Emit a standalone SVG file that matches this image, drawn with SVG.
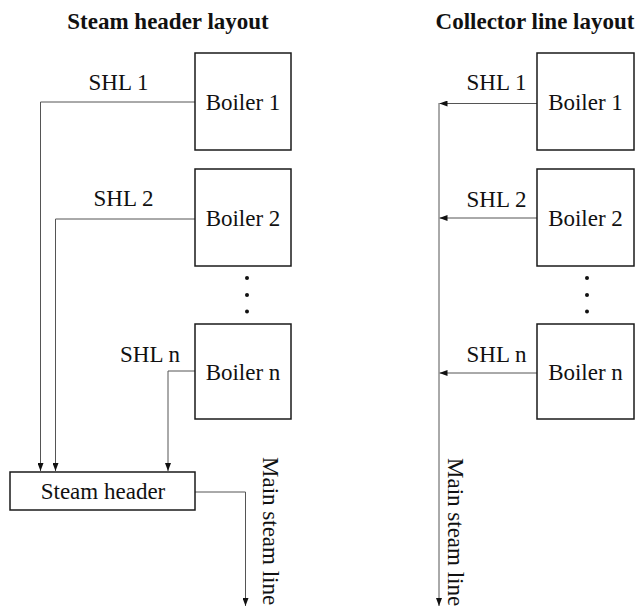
<svg xmlns="http://www.w3.org/2000/svg" width="638" height="609" viewBox="0 0 638 609">
<defs>
<style>
text{font-family:'Liberation Serif','Tinos','Times New Roman','DejaVu Serif',serif;font-size:23px;fill:#111}
.t{font-weight:bold}
.box{fill:#fff;stroke:#1a1a1a;stroke-width:1.5}
.ln{fill:none;stroke:#555;stroke-width:1}
.dot{fill:#111}
</style>
<marker id="ah" viewBox="0 0 8 6" refX="8" refY="3" markerWidth="8" markerHeight="6" markerUnits="userSpaceOnUse" orient="auto">
<path d="M0,0 L8,3 L0,6 Z" fill="#111"/>
</marker>
</defs>
<rect width="638" height="609" fill="#fff"/>
<text class="t" x="168" y="29" text-anchor="middle" font-family="Liberation Serif, serif">Steam header layout</text>
<text class="t" x="535" y="29" text-anchor="middle" font-family="Liberation Serif, serif">Collector line layout</text>

<g id="connectors">
<polyline class="ln" points="195,102 40.5,102 40.5,471" marker-end="url(#ah)"/>
<polyline class="ln" points="195,219 55.5,219 55.5,471" marker-end="url(#ah)"/>
<polyline class="ln" points="195,371 168,371 168,471" marker-end="url(#ah)"/>
<polyline class="ln" points="195,492 245.5,492 245.5,606" marker-end="url(#ah)"/>
<line class="ln" x1="537" y1="103.5" x2="439.5" y2="103.5" marker-end="url(#ah)"/>
<line class="ln" x1="537" y1="218" x2="439.5" y2="218" marker-end="url(#ah)"/>
<line class="ln" x1="537" y1="373" x2="439.5" y2="373" marker-end="url(#ah)"/>
<line class="ln" x1="439" y1="103" x2="439" y2="606" marker-end="url(#ah)"/>
</g>

<g id="l-labels">
<text x="118.5" y="90" text-anchor="middle">SHL 1</text>
<text x="123.5" y="206" text-anchor="middle">SHL 2</text>
<text x="150" y="362" text-anchor="middle">SHL n</text>
<text x="263" y="457" transform="rotate(90 263 457)">Main steam line</text>
</g>
<g id="r-labels">
<text x="496.5" y="90" text-anchor="middle">SHL 1</text>
<text x="496.5" y="207" text-anchor="middle">SHL 2</text>
<text x="496.5" y="362" text-anchor="middle">SHL n</text>
<text x="448" y="458" transform="rotate(90 448 458)">Main steam line</text>
</g>

<g id="l-boiler1"><rect class="box" x="195" y="53" width="96" height="97"/><text x="243" y="110" text-anchor="middle">Boiler 1</text></g>
<g id="l-boiler2"><rect class="box" x="195" y="169" width="96" height="97"/><text x="243" y="226" text-anchor="middle">Boiler 2</text></g>
<g id="l-dots"><circle class="dot" cx="247" cy="278" r="2"/><circle class="dot" cx="247" cy="295" r="2"/><circle class="dot" cx="247" cy="311.5" r="2"/></g>
<g id="l-boilern"><rect class="box" x="195" y="324" width="96" height="95"/><text x="243" y="380" text-anchor="middle">Boiler n</text></g>
<g id="steam-header"><rect class="box" x="10" y="472" width="185" height="38"/><text x="103" y="499" text-anchor="middle">Steam header</text></g>

<g id="r-boiler1"><rect class="box" x="537" y="53" width="97" height="97"/><text x="585.5" y="110" text-anchor="middle">Boiler 1</text></g>
<g id="r-boiler2"><rect class="box" x="537" y="169" width="97" height="97"/><text x="585.5" y="226" text-anchor="middle">Boiler 2</text></g>
<g id="r-dots"><circle class="dot" cx="587" cy="278" r="2"/><circle class="dot" cx="587" cy="295" r="2"/><circle class="dot" cx="587" cy="311.5" r="2"/></g>
<g id="r-boilern"><rect class="box" x="537" y="324" width="97" height="95"/><text x="585.5" y="380" text-anchor="middle">Boiler n</text></g>
</svg>
